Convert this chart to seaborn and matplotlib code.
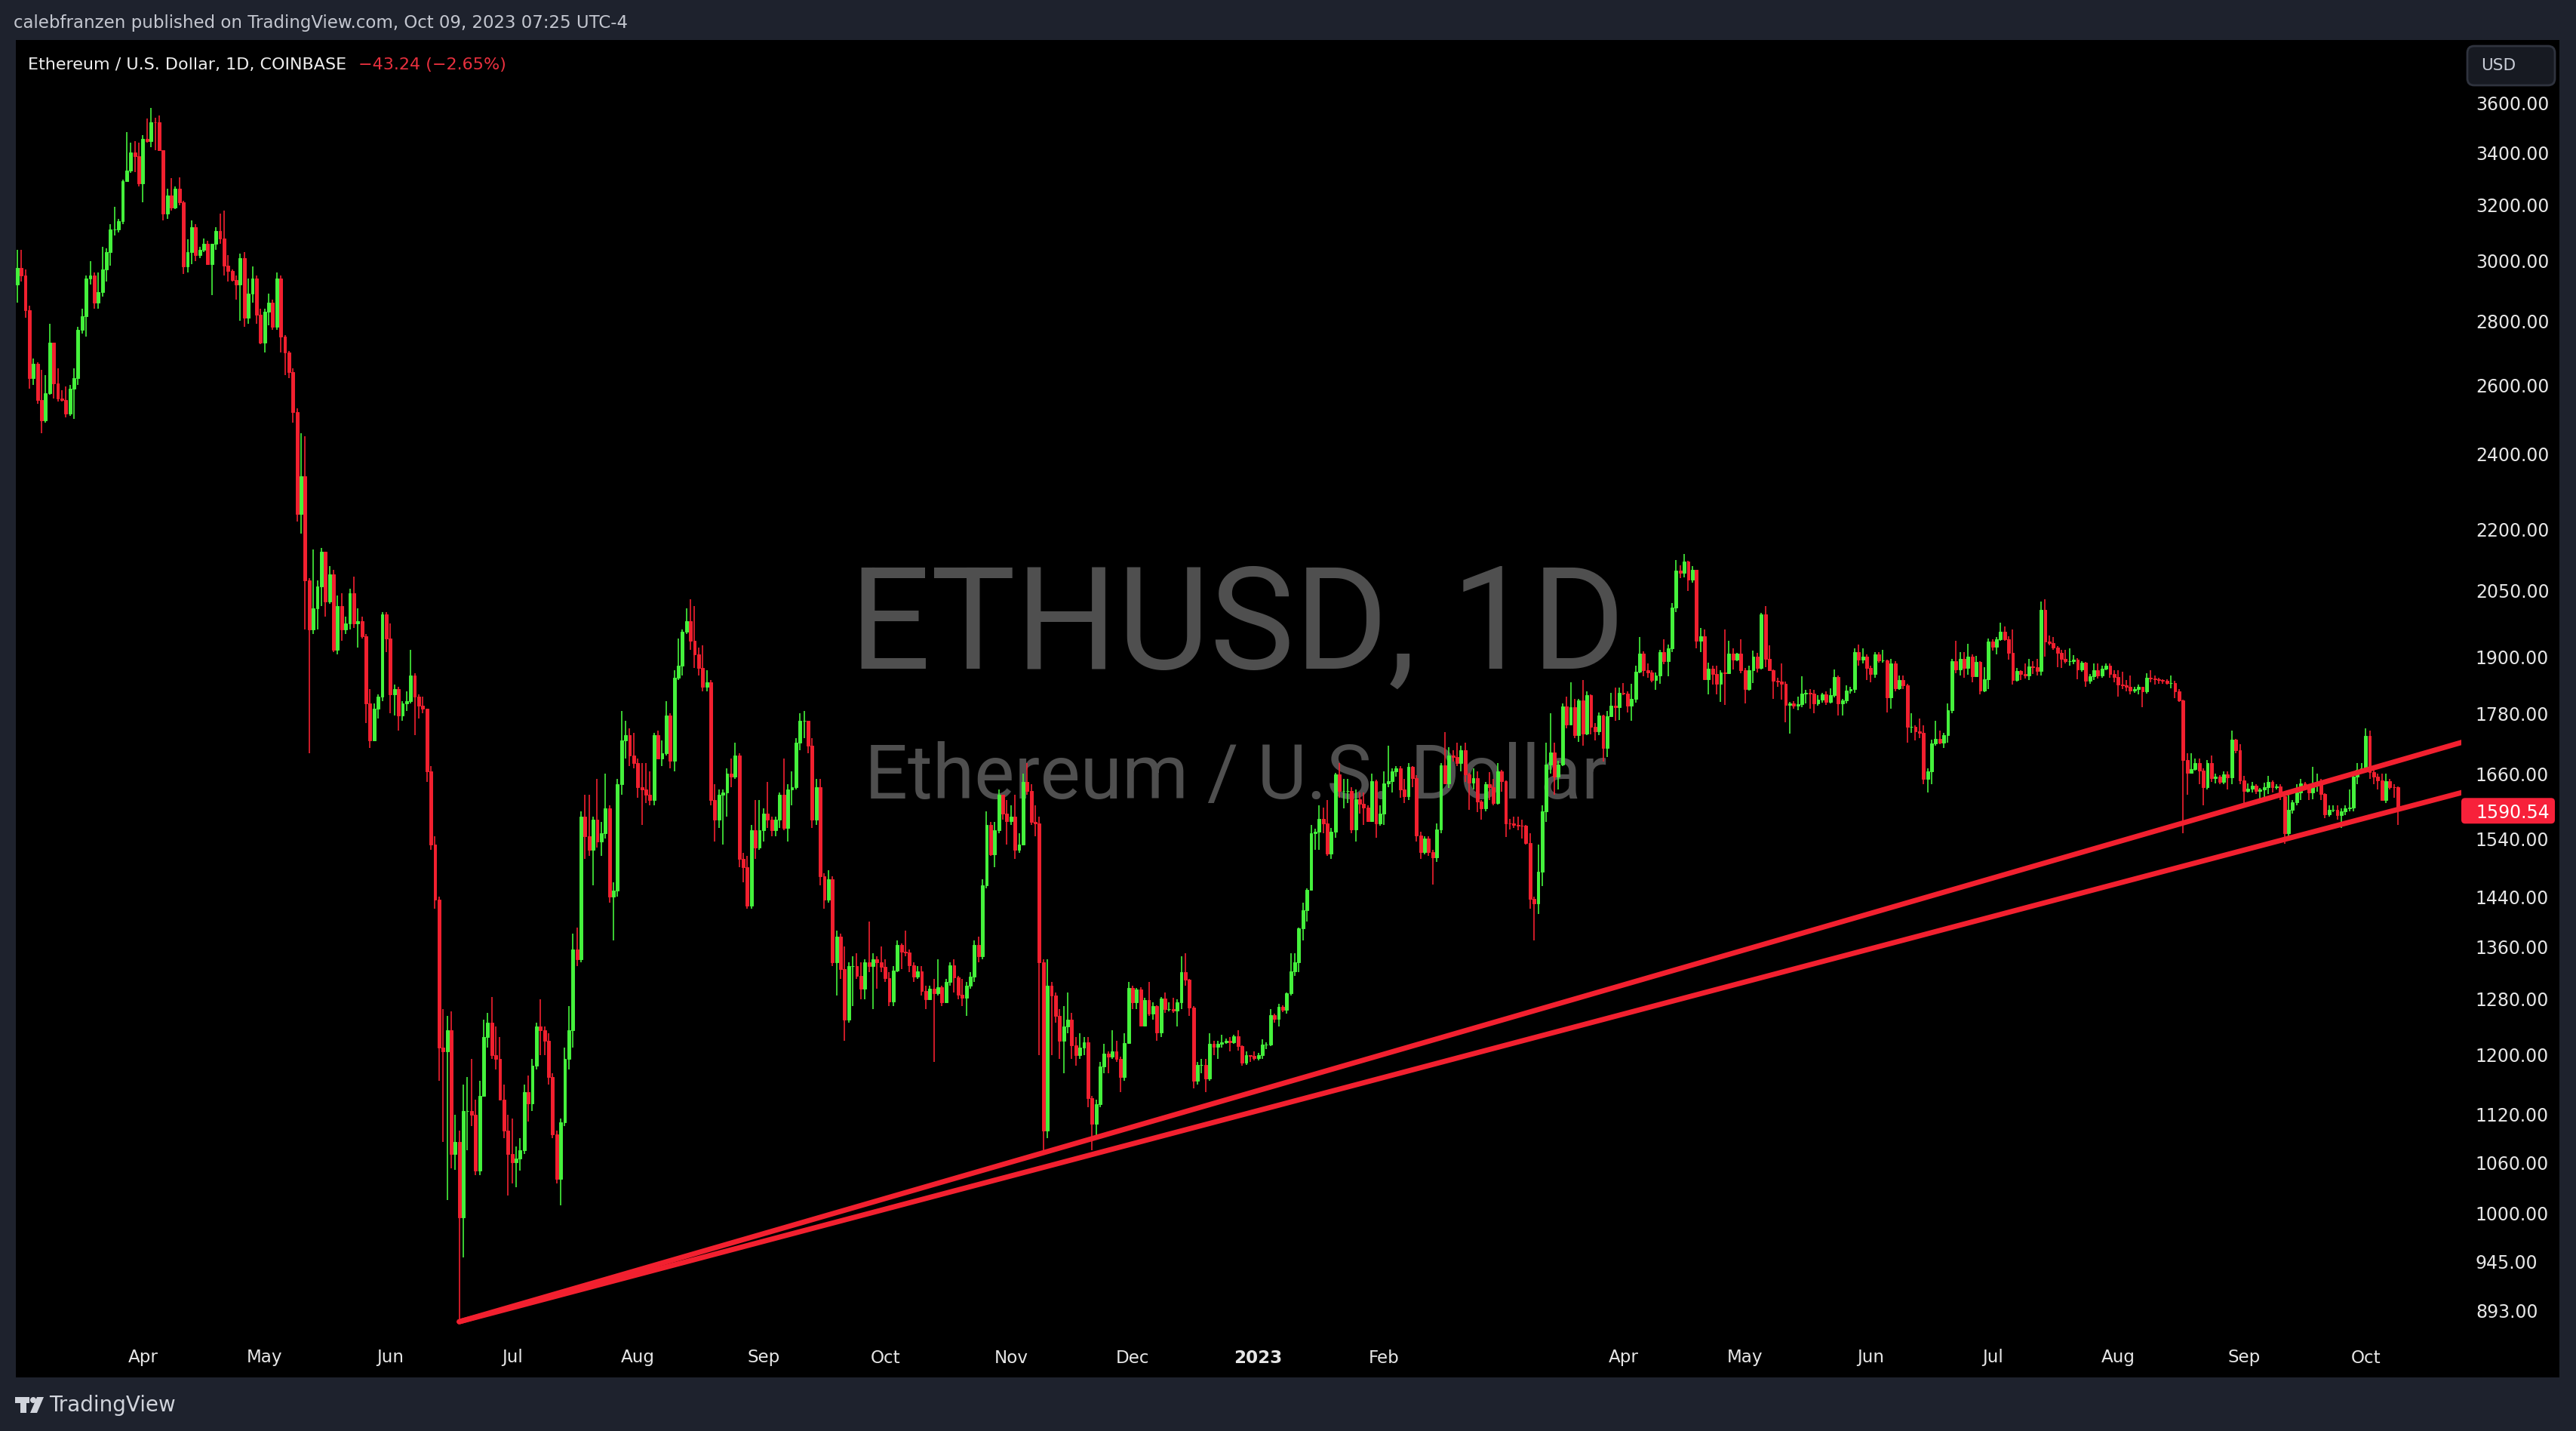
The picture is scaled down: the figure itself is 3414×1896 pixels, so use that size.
import numpy as np
import pandas as pd
import matplotlib
matplotlib.use('Agg')
import matplotlib.pyplot as plt
import seaborn as sns
from matplotlib.patches import FancyBboxPatch, Rectangle, Polygon, Circle
from matplotlib.transforms import IdentityTransform

# ETHUSD daily candles (Coinbase), 1 Mar 2022 - 9 Oct 2023, one inner list per month
first_day = '2022-03-01'
first_open = 2920

close_2022 = [
    [2977, 2950, 2835, 2620, 2665, 2555, 2495, 2575, 2730, 2605, 2560, 2555, 2515, 2590, 2620, 2770, 2815, 2940, 2950, 2860, 2895, 2970, 3030, 3110, 3110, 3140, 3290, 3330, 3400, 3385, 3280],
    [3455, 3445, 3522, 3520, 3410, 3170, 3235, 3190, 3262, 3210, 2980, 3030, 3120, 3020, 3040, 3060, 2990, 3060, 3105, 3080, 2985, 2965, 2935, 2920, 3010, 2810, 2890, 2940, 2820, 2730],
    [2830, 2860, 2780, 2940, 2750, 2700, 2640, 2520, 2240, 2340, 2075, 1960, 2010, 2060, 2145, 2025, 2090, 1915, 2015, 1960, 1975, 2045, 1975, 1980, 1945, 1800, 1725, 1790, 1815, 1995, 1940],
    [1820, 1830, 1775, 1800, 1805, 1860, 1815, 1795, 1790, 1665, 1530, 1435, 1210, 1205, 1235, 1070, 1085, 995, 1125, 1125, 1120, 1050, 1145, 1225, 1245, 1200, 1195, 1140, 1100, 1070],
    [1060, 1065, 1075, 1150, 1135, 1185, 1240, 1235, 1220, 1170, 1095, 1040, 1110, 1195, 1235, 1355, 1340, 1580, 1545, 1520, 1575, 1535, 1550, 1595, 1440, 1450, 1640, 1725, 1735, 1695, 1680],
    [1635, 1630, 1620, 1610, 1735, 1690, 1700, 1775, 1685, 1855, 1880, 1955, 1980, 1935, 1905, 1875, 1835, 1845, 1610, 1575, 1620, 1625, 1660, 1655, 1695, 1505, 1490, 1425, 1555, 1525, 1555],
    [1585, 1575, 1555, 1575, 1620, 1560, 1630, 1635, 1720, 1765, 1765, 1715, 1575, 1635, 1475, 1435, 1470, 1335, 1375, 1325, 1250, 1330, 1330, 1315, 1295, 1335, 1330, 1340, 1335, 1328],
    [1311, 1276, 1323, 1362, 1352, 1351, 1331, 1314, 1322, 1292, 1280, 1295, 1289, 1297, 1275, 1306, 1331, 1312, 1286, 1282, 1300, 1314, 1363, 1345, 1460, 1565, 1513, 1555, 1620, 1585, 1572],
    [1580, 1520, 1530, 1645, 1628, 1570, 1568, 1335, 1100, 1300, 1285, 1255, 1220, 1240, 1250, 1213, 1200, 1210, 1218, 1142, 1108, 1134, 1184, 1202, 1198, 1205, 1195, 1170, 1217, 1296],
    [1275, 1294, 1241, 1279, 1259, 1270, 1232, 1281, 1265, 1265, 1263, 1275, 1320, 1309, 1267, 1165, 1186, 1186, 1168, 1215, 1211, 1215, 1218, 1220, 1218, 1226, 1212, 1189, 1200, 1199, 1196],
]
close_2023 = [
    [1200, 1214, 1214, 1256, 1251, 1269, 1264, 1288, 1321, 1335, 1389, 1418, 1452, 1550, 1552, 1576, 1567, 1514, 1553, 1659, 1628, 1628, 1628, 1557, 1612, 1603, 1597, 1572, 1646, 1567, 1586],
    [1641, 1646, 1665, 1670, 1630, 1617, 1674, 1651, 1546, 1516, 1541, 1516, 1507, 1556, 1676, 1641, 1696, 1692, 1681, 1705, 1659, 1643, 1652, 1607, 1595, 1640, 1635, 1605],
    [1664, 1646, 1568, 1567, 1565, 1564, 1563, 1533, 1437, 1429, 1482, 1590, 1678, 1702, 1655, 1678, 1794, 1757, 1792, 1736, 1807, 1738, 1818, 1753, 1743, 1776, 1710, 1774, 1796, 1792, 1822],
    [1821, 1795, 1810, 1868, 1907, 1871, 1866, 1849, 1860, 1910, 1891, 1918, 2011, 2099, 2094, 2121, 2076, 2101, 1935, 1945, 1851, 1874, 1862, 1842, 1866, 1864, 1907, 1893, 1907, 1871],
    [1830, 1870, 1900, 1876, 1995, 1896, 1871, 1848, 1846, 1841, 1797, 1800, 1795, 1799, 1821, 1823, 1821, 1801, 1809, 1819, 1804, 1818, 1856, 1800, 1806, 1827, 1830, 1910, 1893, 1901, 1875],
    [1863, 1906, 1892, 1892, 1813, 1886, 1832, 1849, 1839, 1752, 1752, 1743, 1740, 1650, 1665, 1719, 1728, 1720, 1736, 1787, 1891, 1873, 1895, 1876, 1901, 1858, 1888, 1828, 1852, 1934],
    [1922, 1938, 1955, 1938, 1909, 1850, 1869, 1863, 1859, 1879, 1878, 1869, 2006, 1934, 1931, 1920, 1908, 1896, 1890, 1891, 1893, 1873, 1887, 1848, 1857, 1871, 1860, 1874, 1881, 1862, 1856],
    [1840, 1838, 1835, 1827, 1830, 1835, 1826, 1854, 1853, 1851, 1849, 1848, 1843, 1843, 1826, 1806, 1686, 1662, 1669, 1681, 1666, 1634, 1681, 1652, 1655, 1645, 1659, 1653, 1727, 1706, 1648],
    [1628, 1632, 1638, 1628, 1630, 1635, 1645, 1635, 1636, 1617, 1550, 1593, 1606, 1625, 1642, 1636, 1624, 1640, 1645, 1622, 1584, 1592, 1593, 1582, 1589, 1595, 1596, 1654, 1668, 1671],
    [1734, 1663, 1655, 1648, 1611, 1646, 1634, 1633.78, 1590.54],
]

high_2022 = [
    [3040, 3040, 2970, 2850, 2680, 2670, 2645, 2630, 2790, 2730, 2650, 2585, 2595, 2600, 2650, 2780, 2840, 2950, 3000, 2960, 2960, 3050, 3045, 3130, 3195, 3150, 3295, 3480, 3440, 3445, 3440],
    [3470, 3535, 3580, 3540, 3550, 3410, 3260, 3300, 3270, 3305, 3215, 3075, 3145, 3130, 3050, 3080, 3070, 3060, 3120, 3170, 3180, 3020, 2970, 2950, 3025, 3030, 2940, 2980, 2950, 2840],
    [2840, 2890, 2870, 2960, 2950, 2755, 2705, 2650, 2530, 2460, 2450, 2080, 2150, 2075, 2155, 2145, 2110, 2100, 2040, 2045, 1990, 2055, 2085, 2010, 1990, 1950, 1830, 1800, 1820, 2000, 2000],
    [1975, 1840, 1835, 1805, 1825, 1915, 1865, 1820, 1815, 1790, 1675, 1545, 1440, 1265, 1255, 1262, 1120, 1100, 1160, 1170, 1195, 1140, 1165, 1250, 1260, 1283, 1240, 1225, 1160, 1120],
    [1115, 1080, 1090, 1160, 1172, 1195, 1245, 1280, 1240, 1230, 1175, 1100, 1115, 1210, 1270, 1380, 1390, 1590, 1620, 1620, 1580, 1650, 1570, 1660, 1600, 1465, 1650, 1785, 1765, 1750, 1740],
    [1690, 1680, 1680, 1665, 1740, 1745, 1725, 1805, 1780, 1870, 1940, 1960, 2010, 2030, 2015, 1920, 1925, 1870, 1850, 1640, 1630, 1630, 1670, 1690, 1720, 1700, 1515, 1510, 1565, 1610, 1610],
    [1595, 1645, 1580, 1580, 1625, 1690, 1640, 1665, 1730, 1780, 1785, 1765, 1730, 1650, 1650, 1480, 1485, 1475, 1385, 1380, 1360, 1335, 1345, 1350, 1335, 1340, 1400, 1350, 1345, 1360],
    [1340, 1320, 1330, 1370, 1365, 1385, 1355, 1335, 1330, 1330, 1300, 1300, 1310, 1340, 1300, 1310, 1335, 1340, 1315, 1310, 1305, 1320, 1370, 1375, 1470, 1590, 1570, 1570, 1630, 1620, 1610],
    [1600, 1620, 1550, 1660, 1680, 1640, 1600, 1580, 1340, 1340, 1305, 1290, 1265, 1270, 1290, 1260, 1225, 1230, 1225, 1225, 1145, 1140, 1190, 1215, 1205, 1235, 1220, 1198, 1230, 1305],
    [1300, 1296, 1297, 1282, 1305, 1275, 1271, 1283, 1290, 1275, 1282, 1280, 1345, 1350, 1310, 1270, 1190, 1195, 1195, 1230, 1220, 1220, 1228, 1223, 1225, 1228, 1235, 1213, 1205, 1200, 1205],
]
high_2023 = [
    [1203, 1222, 1218, 1265, 1259, 1273, 1271, 1290, 1350, 1350, 1390, 1430, 1455, 1565, 1558, 1600, 1596, 1610, 1560, 1662, 1680, 1650, 1650, 1635, 1630, 1625, 1625, 1600, 1660, 1649, 1600],
    [1665, 1715, 1670, 1675, 1675, 1650, 1680, 1675, 1657, 1552, 1545, 1545, 1520, 1568, 1680, 1742, 1712, 1706, 1720, 1715, 1720, 1662, 1670, 1664, 1610, 1645, 1663, 1650],
    [1680, 1667, 1648, 1576, 1580, 1580, 1575, 1565, 1550, 1440, 1530, 1600, 1720, 1780, 1720, 1685, 1800, 1815, 1845, 1810, 1810, 1850, 1825, 1820, 1760, 1782, 1777, 1785, 1823, 1833, 1833],
    [1843, 1826, 1841, 1880, 1944, 1912, 1885, 1871, 1866, 1915, 1939, 1927, 2021, 2124, 2112, 2140, 2122, 2110, 2101, 1964, 1960, 1887, 1880, 1880, 1871, 1960, 1935, 1918, 1909, 1938],
    [1875, 1881, 1913, 1908, 1998, 2015, 1925, 1872, 1855, 1885, 1846, 1803, 1805, 1815, 1858, 1829, 1830, 1829, 1817, 1822, 1826, 1832, 1873, 1860, 1810, 1838, 1835, 1919, 1927, 1918, 1905],
    [1880, 1910, 1910, 1915, 1893, 1895, 1890, 1860, 1860, 1842, 1780, 1755, 1770, 1756, 1670, 1726, 1765, 1745, 1740, 1800, 1895, 1935, 1910, 1910, 1928, 1905, 1902, 1890, 1878, 1940],
    [1938, 1944, 1977, 1968, 1945, 1960, 1875, 1870, 1885, 1895, 1890, 1895, 2025, 2030, 1948, 1943, 1923, 1915, 1915, 1918, 1903, 1897, 1890, 1888, 1862, 1885, 1885, 1880, 1885, 1886, 1870],
    [1870, 1868, 1850, 1860, 1835, 1840, 1835, 1864, 1870, 1860, 1855, 1852, 1852, 1860, 1848, 1830, 1808, 1700, 1700, 1690, 1690, 1670, 1687, 1695, 1660, 1658, 1665, 1665, 1745, 1728, 1718],
    [1656, 1642, 1645, 1640, 1633, 1643, 1656, 1648, 1640, 1640, 1618, 1620, 1611, 1640, 1650, 1645, 1640, 1673, 1660, 1650, 1623, 1600, 1600, 1600, 1595, 1600, 1630, 1665, 1680, 1680],
    [1750, 1745, 1670, 1660, 1660, 1660, 1650, 1640, 1636],
]

low_2022 = [
    [2860, 2930, 2810, 2590, 2600, 2545, 2460, 2490, 2570, 2560, 2550, 2550, 2505, 2510, 2500, 2600, 2760, 2750, 2920, 2840, 2840, 2880, 2930, 2985, 3090, 3100, 3130, 3290, 3320, 3325, 3270],
    [3210, 3440, 3420, 3410, 3405, 3145, 3150, 3180, 3185, 3200, 2955, 2960, 2990, 3000, 3010, 3030, 2990, 2885, 3040, 3060, 2950, 2930, 2930, 2870, 2800, 2780, 2790, 2860, 2790, 2725],
    [2700, 2785, 2770, 2770, 2700, 2630, 2620, 2490, 2220, 2190, 1960, 1700, 1950, 1960, 2015, 1990, 2020, 1910, 1905, 1935, 1950, 1960, 1965, 1920, 1940, 1760, 1710, 1725, 1770, 1805, 1910],
    [1780, 1775, 1745, 1765, 1785, 1800, 1735, 1770, 1780, 1645, 1520, 1420, 1165, 1085, 1015, 1053, 1051, 880, 950, 1075, 1105, 1045, 1045, 1150, 1210, 1195, 1180, 1140, 1090, 1020],
    [1035, 1030, 1050, 1070, 1111, 1125, 1180, 1200, 1200, 1160, 1090, 1035, 1009, 1105, 1180, 1210, 1330, 1335, 1505, 1510, 1460, 1525, 1510, 1540, 1430, 1370, 1440, 1620, 1690, 1675, 1670],
    [1615, 1565, 1605, 1600, 1600, 1690, 1675, 1695, 1670, 1665, 1850, 1860, 1950, 1915, 1875, 1860, 1825, 1825, 1600, 1535, 1560, 1530, 1580, 1635, 1650, 1490, 1465, 1420, 1420, 1505, 1520],
    [1535, 1560, 1545, 1545, 1560, 1555, 1535, 1600, 1630, 1705, 1730, 1700, 1560, 1565, 1460, 1420, 1430, 1330, 1285, 1310, 1220, 1245, 1270, 1310, 1280, 1280, 1320, 1265, 1295, 1320],
    [1305, 1270, 1270, 1320, 1325, 1345, 1320, 1305, 1310, 1285, 1265, 1280, 1190, 1285, 1270, 1275, 1300, 1290, 1280, 1270, 1255, 1295, 1305, 1335, 1340, 1455, 1510, 1490, 1550, 1575, 1530],
    [1565, 1505, 1515, 1530, 1620, 1565, 1545, 1200, 1075, 1090, 1200, 1245, 1195, 1175, 1230, 1195, 1185, 1195, 1200, 1130, 1075, 1090, 1130, 1175, 1175, 1195, 1190, 1150, 1165, 1215],
    [1265, 1265, 1240, 1240, 1255, 1250, 1220, 1225, 1260, 1262, 1260, 1240, 1265, 1300, 1255, 1155, 1160, 1175, 1150, 1165, 1200, 1195, 1210, 1215, 1205, 1215, 1206, 1185, 1186, 1190, 1192],
]
low_2023 = [
    [1192, 1194, 1208, 1212, 1245, 1240, 1261, 1259, 1285, 1315, 1320, 1370, 1400, 1450, 1520, 1520, 1550, 1510, 1505, 1542, 1615, 1595, 1605, 1550, 1535, 1586, 1565, 1570, 1570, 1542, 1563],
    [1565, 1635, 1625, 1655, 1615, 1605, 1610, 1635, 1535, 1505, 1512, 1510, 1461, 1500, 1550, 1640, 1633, 1684, 1675, 1665, 1644, 1592, 1630, 1588, 1575, 1590, 1611, 1600],
    [1602, 1626, 1543, 1557, 1560, 1555, 1540, 1530, 1420, 1370, 1412, 1458, 1570, 1660, 1620, 1630, 1675, 1750, 1755, 1730, 1722, 1715, 1735, 1737, 1725, 1735, 1684, 1692, 1774, 1765, 1766],
    [1818, 1781, 1765, 1802, 1864, 1857, 1854, 1845, 1829, 1842, 1883, 1857, 1910, 2000, 2081, 2083, 2050, 2070, 1918, 1910, 1850, 1819, 1840, 1819, 1804, 1797, 1862, 1872, 1890, 1865],
    [1801, 1827, 1843, 1866, 1872, 1877, 1869, 1810, 1835, 1809, 1761, 1738, 1790, 1787, 1792, 1800, 1790, 1780, 1795, 1802, 1797, 1800, 1813, 1776, 1775, 1800, 1821, 1823, 1880, 1885, 1850],
    [1845, 1855, 1887, 1887, 1781, 1790, 1825, 1829, 1830, 1720, 1740, 1725, 1730, 1640, 1625, 1640, 1715, 1718, 1710, 1720, 1780, 1865, 1860, 1855, 1861, 1845, 1857, 1820, 1824, 1830],
    [1913, 1905, 1935, 1935, 1893, 1840, 1846, 1850, 1853, 1850, 1862, 1860, 1860, 1900, 1925, 1915, 1878, 1876, 1885, 1880, 1883, 1852, 1868, 1835, 1842, 1849, 1853, 1854, 1870, 1855, 1845],
    [1815, 1830, 1825, 1820, 1823, 1820, 1793, 1821, 1845, 1840, 1841, 1842, 1840, 1832, 1812, 1803, 1550, 1620, 1660, 1666, 1640, 1600, 1630, 1645, 1641, 1640, 1640, 1630, 1640, 1700, 1640],
    [1600, 1625, 1625, 1622, 1611, 1615, 1622, 1625, 1630, 1610, 1531, 1545, 1586, 1600, 1610, 1630, 1610, 1612, 1626, 1610, 1577, 1580, 1588, 1575, 1560, 1582, 1590, 1590, 1640, 1665],
    [1668, 1650, 1640, 1630, 1610, 1605, 1630, 1615, 1565],
]

# price scale labels on the right
price_ticks = [893, 945, 1000, 1060, 1120, 1200, 1280, 1360, 1440, 1540, 1660, 1780,
               1900, 2050, 2200, 2400, 2600, 2800, 3000, 3200, 3400, 3600]

# time scale labels (TradingView hides March 2023)
month_ticks = ['2022-04-01', '2022-05-01', '2022-06-01', '2022-07-01', '2022-08-01',
               '2022-09-01', '2022-10-01', '2022-11-01', '2022-12-01', '2023-01-01',
               '2023-02-01', '2023-04-01', '2023-05-01', '2023-06-01', '2023-07-01',
               '2023-08-01', '2023-09-01', '2023-10-01']
month_labels = ['Apr', 'May', 'Jun', 'Jul', 'Aug', 'Sep', 'Oct', 'Nov', 'Dec', '2023',
                'Feb', 'Apr', 'May', 'Jun', 'Jul', 'Aug', 'Sep', 'Oct']

# the two drawn trendlines (anchor date, price)
trend_dates = ['2022-06-18', '2023-10-25']
trend_upper = [882, 1722]
trend_lower = [882, 1625]

last_price = 1590.54
change_text = '\u221243.24 (\u22122.65%)'

# ---------------------------------------------------------------------------
close = np.array([v for m in close_2022 + close_2023 for v in m], dtype=float)
high = np.array([v for m in high_2022 + high_2023 for v in m], dtype=float)
low = np.array([v for m in low_2022 + low_2023 for v in m], dtype=float)
open_ = np.concatenate([[first_open], close[:-1]])
high = np.maximum(high, np.maximum(open_, close))
low = np.minimum(low, np.minimum(open_, close))

dates = pd.date_range(first_day, periods=len(close), freq='D')
df = pd.DataFrame({'date': dates, 'open': open_, 'high': high, 'low': low, 'close': close})
df['day'] = (df['date'] - pd.Timestamp(first_day)).dt.days

GREEN = '#45f23c'
RED = '#f2202f'
FRAME = '#1e222d'

sns.set_style('dark')
plt.rcParams['font.family'] = ['DejaVu Sans']

W, H = 3414, 1896
fig = plt.figure(figsize=(W / 200, H / 200), dpi=200, facecolor=FRAME)


def fx(px):
    return px / W


def fy(py):
    return 1 - py / H


# black chart area
fig.add_artist(Rectangle((fx(21), fy(1825)), fx(3392) - fx(21), fy(53) - fy(1825),
                         transform=fig.transFigure, facecolor='black', edgecolor='none', zorder=-1))

ax = fig.add_axes([fx(21), fy(1775), (3262 - 21) / W, (1775 - 53) / H])
ax.set_facecolor('black')
for s in ax.spines.values():
    s.set_visible(False)
ax.grid(False)

# watermark
ax.text(fx(1640), fy(886), 'ETHUSD, 1D', transform=fig.transFigure, ha='center', va='baseline',
        fontsize=68, color='#4f4f4f', family='Roboto', zorder=0.5)
ax.text(fx(1638), fy(1058), 'Ethereum / U.S. Dollar', transform=fig.transFigure, ha='center',
        va='baseline', fontsize=36.2, color='#4f4f4f', family='Roboto', zorder=0.5)

# candles
up = df['close'] >= df['open']
colors = np.where(up, GREEN, RED)
ax.vlines(df['day'], df['low'], df['high'], colors=colors, linewidth=0.6, zorder=2)
ax.bar(df['day'], (df['close'] - df['open']).abs(), bottom=np.minimum(df['open'], df['close']),
       width=0.72, color=colors, edgecolor=colors, linewidth=0.35, zorder=3)

# trendlines
tdays = [(pd.Timestamp(d) - pd.Timestamp(first_day)).days for d in trend_dates]
trend = pd.DataFrame({'day': tdays * 2, 'price': trend_upper + trend_lower,
                      'line': ['upper'] * 2 + ['lower'] * 2})
sns.lineplot(data=trend, x='day', y='price', units='line', estimator=None, color=RED,
             linewidth=2.5, solid_capstyle='round', ax=ax, zorder=4, legend=False)

ax.set_yscale('log')
ax.set_xlim(-0.33, 602.6)
ax.set_ylim(863.9, 3871.6)
ax.set_xlabel('')
ax.set_ylabel('')

ax.yaxis.tick_right()
ax.yaxis.set_minor_locator(matplotlib.ticker.NullLocator())
ax.set_yticks(price_ticks)
ax.set_yticklabels([f'{p:.2f}' for p in price_ticks])
ax.tick_params(axis='y', length=0, pad=6.8, labelsize=8.5, labelcolor='#e6e6e6')

xt = [(pd.Timestamp(d) - pd.Timestamp(first_day)).days for d in month_ticks]
ax.set_xticks(xt)
ax.set_xticklabels(month_labels)
ax.tick_params(axis='x', length=0, pad=4.5, labelsize=8.3, labelcolor='#e6e6e6')
for lbl in ax.get_xticklabels():
    if lbl.get_text() == '2023':
        lbl.set_fontweight('bold')

# header texts
fig.text(fx(18), fy(31), 'calebfranzen published on TradingView.com, Oct 09, 2023 07:25 UTC-4',
         color='#c3c6cf', fontsize=8.25, va='center', ha='left')
fig.text(fx(37), fy(86), 'Ethereum / U.S. Dollar, 1D, COINBASE', color='#eeeeee',
         fontsize=8.0, va='center', ha='left')
fig.text(fx(475), fy(86), change_text, color='#e8303e', fontsize=8.0, va='center', ha='left')

# USD button
fig.add_artist(FancyBboxPatch((3270, H - 113), 116, 52, boxstyle='round,pad=0,rounding_size=9',
                              transform=IdentityTransform(), facecolor='#171a22',
                              edgecolor='#2f333e', linewidth=1.0, zorder=5))
fig.text(fx(3288), fy(87), 'USD', color='#c8ccd6', fontsize=7.8, va='center', ha='left', zorder=6)

# last price label
fig.canvas.draw()
y_last = ax.transData.transform((0, last_price))[1]
fig.add_artist(FancyBboxPatch((3262, y_last - 17), 124, 34, boxstyle='round,pad=0,rounding_size=5',
                              transform=IdentityTransform(), facecolor='#f7213a',
                              edgecolor='none', zorder=5))
fig.text(fx(3281), y_last / H, f'{last_price:.2f}', color='white', fontsize=8.5,
         va='center_baseline', ha='left', zorder=6)

# TradingView logo in footer
logo_col = '#d1d4dc'
fig.add_artist(Polygon([(20, H - 1851), (39, H - 1851), (39, H - 1859), (35, H - 1859),
                        (35, H - 1872), (27, H - 1872), (27, H - 1859), (20, H - 1859)],
                       closed=True, transform=IdentityTransform(), facecolor=logo_col,
                       edgecolor='none'))
fig.add_artist(Circle((44, H - 1855), 4, transform=IdentityTransform(), facecolor=logo_col,
                      edgecolor='none'))
fig.add_artist(Polygon([(49, H - 1851), (58, H - 1851), (49, H - 1872), (40, H - 1872)],
                       closed=True, transform=IdentityTransform(), facecolor=logo_col,
                       edgecolor='none'))
fig.text(fx(65), fy(1862), 'TradingView', color=logo_col, fontsize=10, va='center', ha='left')

fig.savefig('out.png', dpi=200, facecolor=FRAME)
